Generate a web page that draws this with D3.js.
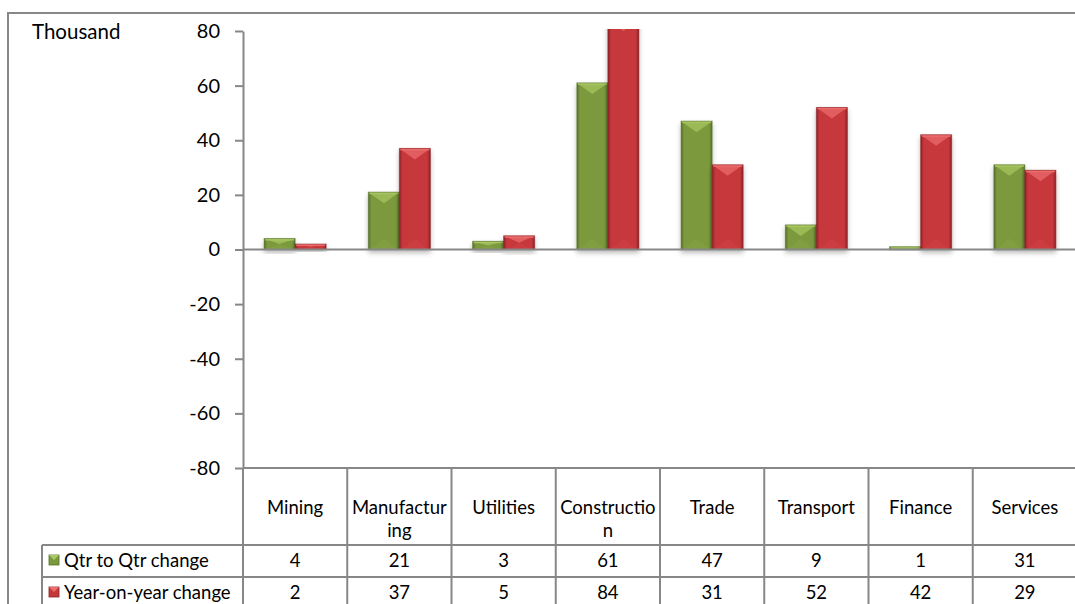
<!DOCTYPE html>
<html>
<head>
<meta charset="utf-8">
<script src="https://cdn.jsdelivr.net/npm/d3@7"></script>
<style>
  html, body { margin: 0; padding: 0; background: #fff; }
  svg { display: block; }
  text { font-family: Lato, "Noto Sans", sans-serif; fill: #000; }
</style>
</head>
<body>
<svg id="chart" width="1075" height="604"></svg>
<script>
// Employment change by industry, thousand
const categories = ["Mining", "Manufacturing", "Utilities", "Construction", "Trade", "Transport", "Finance", "Services"];
const categoryLines = [["Mining"], ["Manufactur", "ing"], ["Utilities"], ["Constructio", "n"], ["Trade"], ["Transport"], ["Finance"], ["Services"]];
const seriesNames = ["Qtr to Qtr change", "Year-on-year change"];
const qtrValues = [4, 21, 3, 61, 47, 9, 1, 31];
const yearValues = [2, 37, 5, 84, 31, 52, 42, 29];
const yTicks = [-80, -60, -40, -20, 0, 20, 40, 60, 80];
const unitLabel = "Thousand";

const seriesColors = [
  { base: "#7b9a3d", light: "#a9c763", dark: "#55702a" },
  { base: "#c6373b", light: "#ec6d6d", dark: "#8a2226" }
];

const svg = d3.select("#chart");
const W = 1075, H = 604;
const axisColor = "#878787";
const fontFamily = "Lato, 'Noto Sans', sans-serif";

const plotLeft = 243, plotRight = 1077, plotTop = 31, plotBottom = 468;
const headerBottom = 545, row1Bottom = 577, row2Bottom = 609;
const tableLeft = 42;

const x = d3.scaleBand().domain(categories).range([plotLeft, plotRight]).padding(0);
const xs = d3.scaleBand().domain(seriesNames).range([0, x.bandwidth()]).paddingInner(0).paddingOuter(0.68);
const y = d3.scaleLinear().domain([-80, 80]).range([plotBottom, plotTop]);

const defs = svg.append("defs");
seriesColors.forEach((c, i) => {
  const g = defs.append("linearGradient").attr("id", "grad" + i)
    .attr("x1", "0").attr("x2", "1").attr("y1", "0").attr("y2", "0");
  g.append("stop").attr("offset", "0").attr("stop-color", c.dark);
  g.append("stop").attr("offset", "0.1").attr("stop-color", c.base);
  g.append("stop").attr("offset", "0.9").attr("stop-color", c.base);
  g.append("stop").attr("offset", "1").attr("stop-color", c.dark);
});
const shadow = defs.append("filter").attr("id", "shadow")
  .attr("x", "-20%").attr("y", "-20%").attr("width", "140%").attr("height", "160%");
shadow.append("feDropShadow").attr("dx", 0).attr("dy", 3).attr("stdDeviation", 2.5)
  .attr("flood-color", "#000").attr("flood-opacity", 0.28);
defs.append("clipPath").attr("id", "plotClip").append("rect")
  .attr("x", plotLeft).attr("y", plotTop - 2).attr("width", plotRight - plotLeft).attr("height", plotBottom - plotTop + 2);

// outer chart frame
svg.append("rect").attr("x", 8).attr("y", 13).attr("width", W + 20).attr("height", H + 20)
  .attr("fill", "none").attr("stroke", axisColor).attr("stroke-width", 2);

// unit label
svg.append("text").attr("x", 32).attr("y", 39).attr("font-size", 20.5).text(unitLabel);

// y axis
const yAxis = svg.append("g").attr("transform", `translate(${plotLeft},0)`)
  .call(d3.axisLeft(y).tickValues(yTicks).tickFormat(d => String(d))
    .tickSize(8).tickPadding(15).tickSizeOuter(0));
yAxis.select(".domain").attr("stroke", axisColor).attr("stroke-width", 2);
yAxis.selectAll(".tick line").attr("stroke", axisColor).attr("stroke-width", 2);
yAxis.selectAll(".tick text").attr("font-size", 20).attr("font-family", fontFamily).attr("fill", "#000");

// bars
const barData = [];
categories.forEach((c, ci) => {
  [qtrValues, yearValues].forEach((vals, si) => {
    barData.push({ cat: c, series: seriesNames[si], si, value: vals[ci] });
  });
});

const barsG = svg.append("g").attr("clip-path", "url(#plotClip)");
const bar = barsG.selectAll("g.bar").data(barData).join("g").attr("class", "bar")
  .attr("filter", "url(#shadow)");

bar.each(function (d) {
  const g = d3.select(this);
  const bx = x(d.cat) + xs(d.series);
  const bw = xs.bandwidth();
  const top = y(Math.max(0, d.value));
  const bottom = y(Math.min(0, d.value));
  const h = bottom - top;
  const c = seriesColors[d.si];
  g.append("rect").attr("x", bx).attr("y", top).attr("width", bw).attr("height", h)
    .attr("fill", `url(#grad${d.si})`);
  const bev = Math.min(11, h / 2);
  // top chamfer highlight
  g.append("path")
    .attr("d", `M${bx},${top}L${bx + bw},${top}L${bx + bw / 2},${top + bev}Z`)
    .attr("fill", c.light).attr("opacity", 0.7);
  g.append("rect").attr("x", bx + 1).attr("y", top).attr("width", bw - 2).attr("height", Math.min(2, h))
    .attr("fill", c.light).attr("opacity", 0.9);
  // faint bottom chamfer
  g.append("path")
    .attr("d", `M${bx + 2},${bottom}L${bx + bw - 2},${bottom}L${bx + bw / 2},${bottom - bev}Z`)
    .attr("fill", c.light).attr("opacity", 0.12);
  g.append("rect").attr("x", bx).attr("y", top).attr("width", bw).attr("height", h)
    .attr("fill", "none").attr("stroke", c.dark).attr("stroke-opacity", 0.55).attr("stroke-width", 1);
});

// zero line
svg.append("line").attr("x1", plotLeft).attr("x2", plotRight)
  .attr("y1", y(0)).attr("y2", y(0)).attr("stroke", axisColor).attr("stroke-width", 2);

// data table grid
const table = svg.append("g").attr("stroke", axisColor).attr("stroke-width", 2);
table.append("line").attr("x1", plotLeft).attr("x2", plotRight).attr("y1", plotBottom).attr("y2", plotBottom);
[headerBottom, row1Bottom].forEach(yy => {
  table.append("line").attr("x1", tableLeft).attr("x2", plotRight).attr("y1", yy).attr("y2", yy);
});
table.append("line").attr("x1", tableLeft).attr("x2", tableLeft).attr("y1", headerBottom).attr("y2", row2Bottom);
categories.forEach(c => {
  table.append("line").attr("x1", x(c)).attr("x2", x(c)).attr("y1", plotBottom).attr("y2", row2Bottom);
});
table.append("line").attr("x1", plotRight - 1).attr("x2", plotRight - 1).attr("y1", plotBottom).attr("y2", row2Bottom);

// header labels
const tableFont = 18.5;
const headerG = svg.append("g");
categories.forEach((c, i) => {
  const lines = categoryLines[i];
  const cx = x(c) + x.bandwidth() / 2;
  lines.forEach((ln, li) => {
    headerG.append("text").attr("x", cx).attr("y", 514 + li * 23)
      .attr("text-anchor", "middle").attr("font-size", tableFont).text(ln);
  });
});

// value rows with legend keys
const rows = [qtrValues, yearValues];
rows.forEach((vals, ri) => {
  const cy = ri === 0 ? 560 : 592;
  const c = seriesColors[ri];
  const kx = 49, ks = 10;
  svg.append("rect").attr("x", kx).attr("y", cy - ks / 2).attr("width", ks).attr("height", ks)
    .attr("fill", c.base).attr("stroke", c.dark).attr("stroke-width", 0.8);
  svg.append("path").attr("d", `M${kx},${cy - ks / 2}L${kx + ks},${cy - ks / 2}L${kx + ks / 2},${cy}Z`)
    .attr("fill", c.light);
  svg.append("text").attr("x", 64).attr("y", cy + 6.5).attr("font-size", tableFont).text(seriesNames[ri]);
  vals.forEach((v, ci) => {
    svg.append("text").attr("x", x(categories[ci]) + x.bandwidth() / 2).attr("y", cy + 6.5)
      .attr("text-anchor", "middle").attr("font-size", tableFont).text(v);
  });
});
</script>
</body>
</html>
